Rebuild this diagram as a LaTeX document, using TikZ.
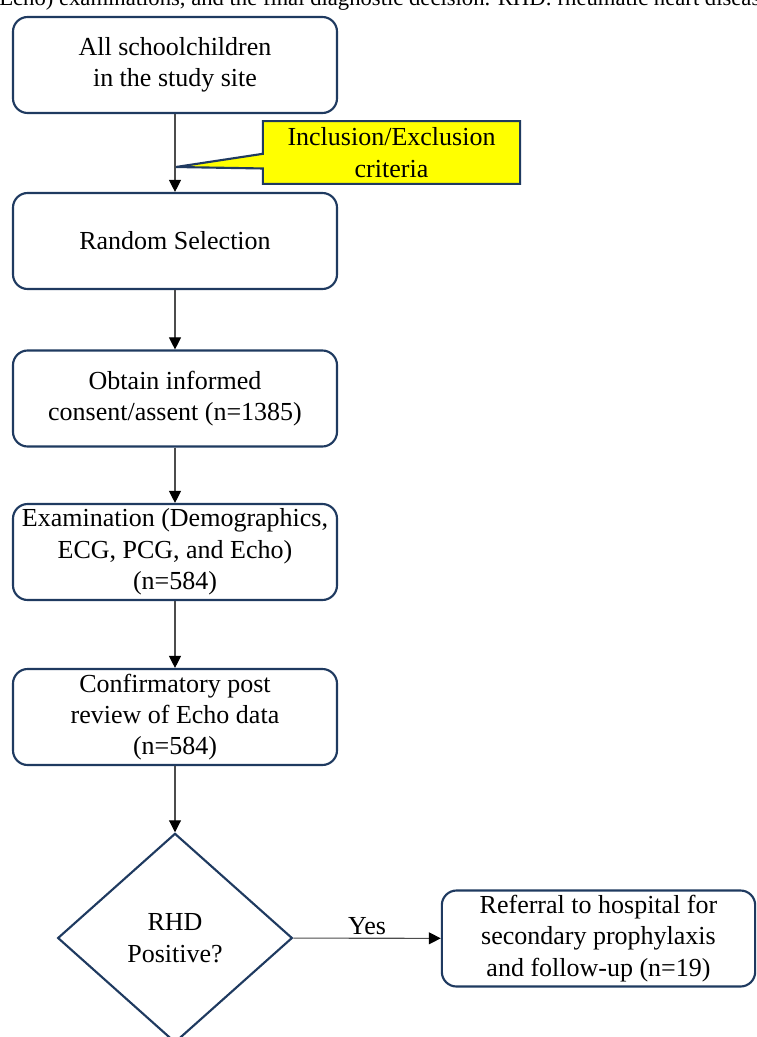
\documentclass[tikz,border=0pt]{standalone}
\usepackage{fontspec}
\setmainfont{Liberation Serif}
\usetikzlibrary{shapes.geometric,shapes.callouts,arrows.meta}
\definecolor{boxline}{HTML}{1F3A60}
\definecolor{notefill}{HTML}{FFFF00}

\begin{document}
\begin{tikzpicture}[x=0.75pt,y=0.75pt,
		flowbox/.style={draw=boxline,line width=1.6pt,rounded corners=11pt,minimum width=243pt,minimum height=72pt,inner sep=2pt,align=center,font=\fontsize{19.5}{23.5}\selectfont},
		decision/.style={draw=boxline,line width=1.6pt,diamond,aspect=1.12,minimum width=176pt,minimum height=157pt,inner sep=0pt,align=center,font=\fontsize{19.5}{23.5}\selectfont},
		note/.style={rectangle callout,draw=boxline,fill=notefill,line width=1.6pt,minimum width=193pt,minimum height=47pt,inner sep=2pt,align=center,callout pointer width=11pt,font=\fontsize{19.5}{23.5}\selectfont},
		link/.style={draw=black!70,line width=0.8pt,-{Triangle[width=9pt,length=9pt,color=black]}}]
		\useasboundingbox (0,0) rectangle (756,-1037);
		\clip (0,0) rectangle (756,-1037);
		\node[anchor=base west,inner sep=0pt,font=\fontsize{17}{20}\selectfont] (caption) at (-1,-6) {Echo) examinations, and the final diagnostic decision. RHD: rheumatic heart disease};
		\node[flowbox] (all) at (175,-65) {All schoolchildren\\in the study site};
		\node[flowbox] (random) at (175,-241) {Random Selection};
		\node[flowbox] (consent) at (175,-398.5) {Obtain informed\\consent/assent (n=1385)};
		\node[flowbox] (exam) at (175,-552) {Examination (Demographics,\\ECG, PCG, and Echo)\\(n=584)};
		\node[flowbox] (review) at (175,-717) {Confirmatory post\\review of Echo data\\(n=584)};
		\node[decision] (rhd) at (175,-938) {RHD\\Positive?};
		\node[flowbox,minimum width=235pt] (referral) at (598.5,-938.5) {Referral to hospital for\\secondary prophylaxis\\and follow-up (n=19)};
		\draw[link] (all) -- (random);
		\draw[link] (random) -- (consent);
		\draw[link] (consent) -- (exam);
		\draw[link] (exam) -- (review);
		\draw[link] (review) -- (rhd);
		\draw[link] (rhd) -- node[above,inner sep=2pt,font=\fontsize{19.5}{23.5}\selectfont] (yes) {Yes} (referral);
		\coordinate (tip) at (176,-167);
		\node[note,callout absolute pointer={(tip)}] (criteria) at (391.5,-152.5) {Inclusion/Exclusion\\criteria};
	\end{tikzpicture}
\end{document}
